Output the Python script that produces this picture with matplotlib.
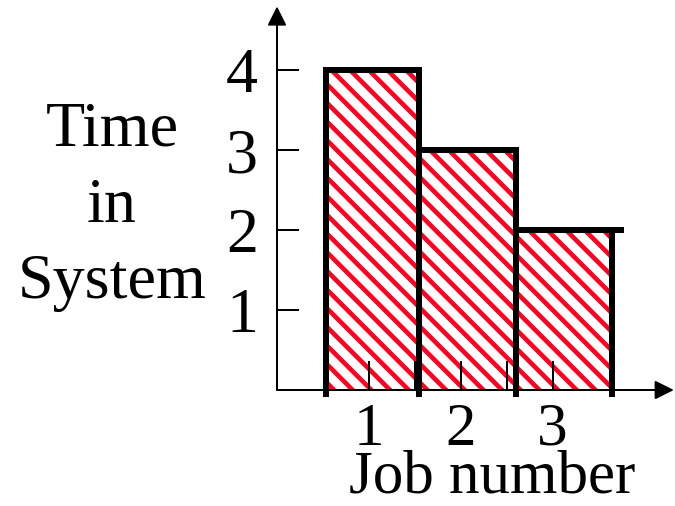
import matplotlib
matplotlib.use("Agg")
import matplotlib.pyplot as plt

# job data
jobs = [1, 2, 3]
times = [4, 3, 2]
bar_left = [0.53, 1.55, 2.60]
bar_width = [1.02, 1.05, 1.05]
y_ticks = [1, 2, 3, 4]
x_ticks_minor = [1.5, 2.5]
ylab_lines = ["Time", "in", "System"]
xlab = "Job number"

DPI = 56            # low dpi so the hatch spacing matches the original
P = 72 / DPI        # pixels -> points

plt.rcParams['font.family'] = ['Liberation Serif', 'DejaVu Serif']
plt.rcParams['hatch.linewidth'] = 4.6 * P

W, H = 675, 506
fig = plt.figure(figsize=(W / DPI, H / DPI), dpi=DPI)
ax = fig.add_axes([277 / W, (H - 390) / H, 395 / W, 382 / H])
ax.set_xlim(0, 4.3)
ax.set_ylim(0, 4.78)
for s in ax.spines.values():
    s.set_visible(False)

# hatched fill
ax.bar(bar_left, times, width=bar_width, align='edge', color='white',
       edgecolor='#ff0022', hatch='\\', linewidth=0, zorder=2)

# black step outline
lw = 6 * P
for i, (l, w, h) in enumerate(zip(bar_left, bar_width, times)):
    r = l + w
    ax.plot([l, r + (0.1 if i == len(times) - 1 else 0)], [h, h], color='k', lw=lw,
            solid_capstyle='projecting', zorder=4, clip_on=False)
    top_left = h if i == 0 else max(h, times[i - 1])
    ax.plot([l, l], [-0.09, top_left], color='k', lw=lw, zorder=4,
            solid_capstyle='butt', clip_on=False)
    if i == len(times) - 1:
        ax.plot([r, r], [-0.09, h], color='k', lw=lw, zorder=4,
                solid_capstyle='butt', clip_on=False)

# axes with arrows
arrow = dict(arrowstyle='-|>', color='k', lw=2 * P, mutation_scale=40 * P,
             shrinkA=0, shrinkB=0)
ax.annotate('', xy=(0, 4.8), xytext=(0, 0), arrowprops=arrow,
            annotation_clip=False, zorder=5)
ax.annotate('', xy=(4.32, 0), xytext=(0, 0), arrowprops=arrow,
            annotation_clip=False, zorder=5)

ax.set_yticks(y_ticks)
ax.set_yticklabels([str(v) for v in y_ticks])
ax.set_xticks(jobs)
ax.set_xticklabels([str(v) for v in jobs])
ax.set_xticks(x_ticks_minor, minor=True)
ax.tick_params(axis='y', direction='in', length=22 * P, width=2 * P, pad=19 * P,
               labelsize=64 * P)
ax.tick_params(axis='x', which='both', direction='in', length=29 * P, width=2 * P,
               pad=12 * P, labelsize=61 * P)
ax.tick_params(axis='x', which='minor', labelbottom=False)
for t in ax.xaxis.get_major_ticks() + ax.xaxis.get_minor_ticks():
    t.tick1line.set_zorder(3)
ax.set_axisbelow(False)

# labels
for line, base in zip(ylab_lines, [145, 222, 298]):
    fig.text(112 / W, 1 - base / H, line, ha='center', va='baseline', fontsize=64 * P)
fig.text(492 / W, 1 - 492 / H, xlab, ha='center', va='baseline', fontsize=61 * P)

fig.savefig("out.png", dpi=DPI)
